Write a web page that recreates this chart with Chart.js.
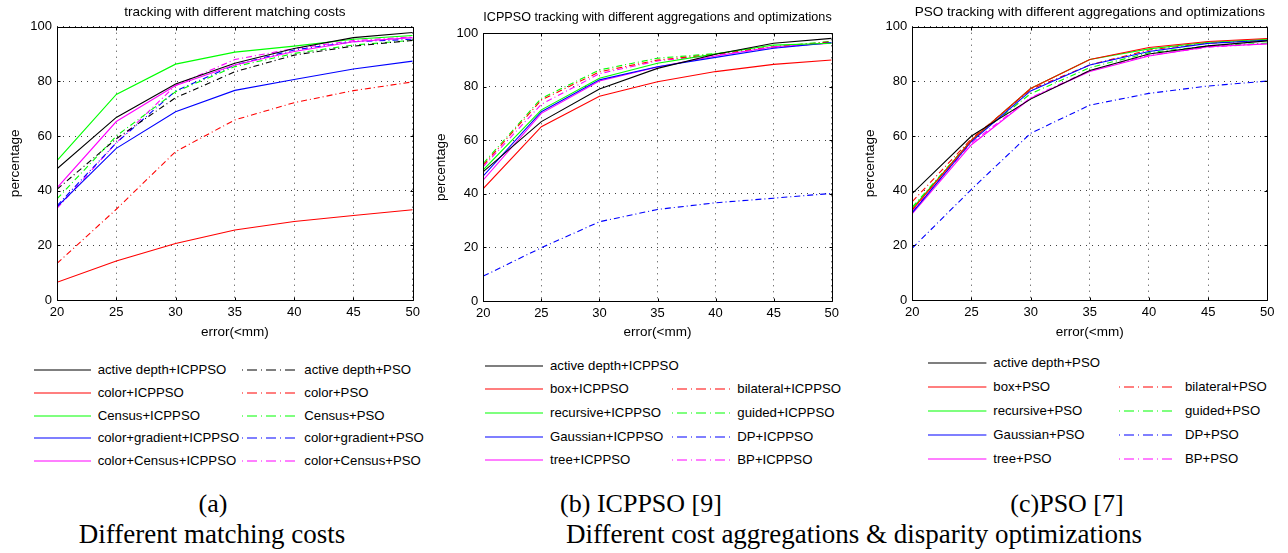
<!DOCTYPE html>
<html>
<head>
<meta charset="utf-8">
<script src="https://cdn.jsdelivr.net/npm/chart.js@4.4.0/dist/chart.umd.min.js"></script>
<style>
body { margin: 0; width: 1288px; height: 553px; background: #fff; position: relative; overflow: hidden; font-family: "Liberation Sans", Arial, sans-serif; }
canvas { position: absolute; top: 0; }
.leg { position: absolute; font-size: 13.2px; line-height: 16px; white-space: nowrap; color: #000; }
.sample { position: absolute; }
.cap { position: absolute; font-family: "Liberation Serif", "Times New Roman", serif; font-size: 26px; line-height: 26px; white-space: nowrap; color: #000; transform: translateX(-50%); }
.cap2 { font-size: 27px; line-height: 27px; }
</style>
</head>
<body>
<canvas id="chartA" width="430" height="345" style="left:0px"></canvas>
<canvas id="chartB" width="430" height="345" style="left:430px"></canvas>
<canvas id="chartC" width="428" height="345" style="left:860px"></canvas>
<div id="legends"></div>

<div class="cap" style="left:213px; top:491px">(a)</div>
<div class="cap" style="left:641px; top:491px">(b) ICPPSO [9]</div>
<div class="cap" style="left:1067px; top:491px">(c)PSO [7]</div>
<div class="cap cap2" style="left:212px; top:520.7px">Different matching costs</div>
<div class="cap cap2" style="left:854px; top:520.7px">Different cost aggregations &amp; disparity optimizations</div>

<script>
// x axis: error threshold (mm)
const errorMm = [20, 25, 30, 35, 40, 45, 50];

// (a) different matching costs
const a_activeDepthICPPSO = [48, 66.8, 79, 86.6, 92, 96, 97.9];
const a_colorICPPSO = [6.5, 14.3, 20.7, 25.6, 28.7, 30.9, 33];
const a_censusICPPSO = [51, 75.2, 86.3, 90.7, 92.9, 95.4, 96.8];
const a_colorGradientICPPSO = [34.1, 55.5, 68.9, 76.7, 80.7, 84.5, 87.4];
const a_colorCensusICPPSO = [41, 65.3, 78.5, 86, 90.9, 94.5, 96];
const a_activeDepthPSO = [40.5, 59, 74, 83.5, 89.6, 92.9, 95];
const a_colorPSO = [13.4, 33.2, 54.3, 65.9, 72.2, 76.6, 79.8];
const a_censusPSO = [37, 60, 76.2, 85.4, 90.2, 93.3, 95];
const a_colorGradientPSO = [34.5, 57.5, 76.5, 86, 91.5, 94.5, 95.4];
const a_colorCensusPSO = [33.5, 57.5, 78.5, 88, 92, 94.9, 96.3];

// (b) ICPPSO with different aggregations / optimizations
const b_activeDepth = [48.3, 67, 79.2, 86.9, 92.2, 96.3, 98.1];
const b_box = [42, 65.1, 76.5, 81.9, 85.7, 88.4, 90];
const b_recursive = [49, 71.4, 83.2, 88.8, 92.3, 95.6, 96.3];
const b_gaussian = [46.7, 70.7, 82.6, 87.5, 91, 94.4, 96.5];
const b_tree = [45.2, 70.1, 82.2, 87.4, 91.5, 95, 96.3];
const b_bilateral = [50.8, 75.1, 85.6, 90, 92.2, 95, 96.8];
const b_guided = [51.4, 75.7, 86.3, 90.7, 92.4, 95, 97];
const b_dp = [9.3, 19.9, 29.6, 34.2, 36.7, 38.4, 40.2];
const b_bp = [50.2, 73.5, 84.9, 89.7, 91.9, 94.6, 96.5];

// (c) PSO with different aggregations / optimizations
const c_activeDepth = [39, 60, 73.5, 84, 90, 93, 94.8];
const c_box = [33, 58.5, 77.4, 88, 92.4, 94.6, 95.7];
const c_recursive = [33.5, 58.5, 77.4, 88, 91.9, 94.3, 95.4];
const c_gaussian = [32, 58, 76.5, 86, 90.9, 93.9, 95.1];
const c_tree = [31.6, 56.8, 73.8, 83.6, 89.3, 92.7, 93.7];
const c_bilateral = [36, 59, 77, 86, 91.5, 94, 95];
const c_guided = [34, 58.5, 75.5, 85, 90.5, 93, 94];
const c_dp = [19, 40.5, 61, 71.3, 75.6, 78.3, 80.1];
const c_bp = [32.5, 57.5, 74, 84, 89.5, 92.5, 93.8];

const dashDot = [6, 3, 1, 3];
const gridColor = 'rgba(0,0,0,0.75)';

Chart.defaults.font.family = '"Liberation Sans", Arial, sans-serif';
Chart.defaults.color = '#000';

const panelA = {
    title: 'tracking with different matching costs',
    series: [
        { label: 'active depth+ICPPSO', values: a_activeDepthICPPSO, color: '#000000' },
        { label: 'color+ICPPSO', values: a_colorICPPSO, color: '#ff0000' },
        { label: 'Census+ICPPSO', values: a_censusICPPSO, color: '#00ff00' },
        { label: 'color+gradient+ICPPSO', values: a_colorGradientICPPSO, color: '#0000ff' },
        { label: 'color+Census+ICPPSO', values: a_colorCensusICPPSO, color: '#ff00ff' },
        { label: 'active depth+PSO', values: a_activeDepthPSO, color: '#000000', dashed: true },
        { label: 'color+PSO', values: a_colorPSO, color: '#ff0000', dashed: true },
        { label: 'Census+PSO', values: a_censusPSO, color: '#00ff00', dashed: true },
        { label: 'color+gradient+PSO', values: a_colorGradientPSO, color: '#0000ff', dashed: true },
        { label: 'color+Census+PSO', values: a_colorCensusPSO, color: '#ff00ff', dashed: true }
    ],
    legendLeft: ['active depth+ICPPSO', 'color+ICPPSO', 'Census+ICPPSO', 'color+gradient+ICPPSO', 'color+Census+ICPPSO'],
    legendRight: ['active depth+PSO', 'color+PSO', 'Census+PSO', 'color+gradient+PSO', 'color+Census+PSO']
};

const panelB = {
    title: 'ICPPSO tracking with different aggregations and optimizations',
    series: [
        { label: 'active depth+ICPPSO', values: b_activeDepth, color: '#000000' },
        { label: 'box+ICPPSO', values: b_box, color: '#ff0000' },
        { label: 'recursive+ICPPSO', values: b_recursive, color: '#00ff00' },
        { label: 'Gaussian+ICPPSO', values: b_gaussian, color: '#0000ff' },
        { label: 'tree+ICPPSO', values: b_tree, color: '#ff00ff' },
        { label: 'bilateral+ICPPSO', values: b_bilateral, color: '#ff0000', dashed: true },
        { label: 'guided+ICPPSO', values: b_guided, color: '#00ff00', dashed: true },
        { label: 'DP+ICPPSO', values: b_dp, color: '#0000ff', dashed: true },
        { label: 'BP+ICPPSO', values: b_bp, color: '#ff00ff', dashed: true }
    ],
    legendLeft: ['active depth+ICPPSO', 'box+ICPPSO', 'recursive+ICPPSO', 'Gaussian+ICPPSO', 'tree+ICPPSO'],
    legendRight: [null, 'bilateral+ICPPSO', 'guided+ICPPSO', 'DP+ICPPSO', 'BP+ICPPSO']
};

const panelC = {
    title: 'PSO tracking with different aggregations and optimizations',
    series: [
        { label: 'active depth+PSO', values: c_activeDepth, color: '#000000' },
        { label: 'box+PSO', values: c_box, color: '#ff0000' },
        { label: 'recursive+PSO', values: c_recursive, color: '#00ff00' },
        { label: 'Gaussian+PSO', values: c_gaussian, color: '#0000ff' },
        { label: 'tree+PSO', values: c_tree, color: '#ff00ff' },
        { label: 'bilateral+PSO', values: c_bilateral, color: '#ff0000', dashed: true },
        { label: 'guided+PSO', values: c_guided, color: '#00ff00', dashed: true },
        { label: 'DP+PSO', values: c_dp, color: '#0000ff', dashed: true },
        { label: 'BP+PSO', values: c_bp, color: '#ff00ff', dashed: true }
    ],
    legendLeft: ['active depth+PSO', 'box+PSO', 'recursive+PSO', 'Gaussian+PSO', 'tree+PSO'],
    legendRight: [null, 'bilateral+PSO', 'guided+PSO', 'DP+PSO', 'BP+PSO']
};

// box around the plot area plus small inward ticks, matlab style
const frame = {
    id: 'frame',
    afterDraw(chart) {
        const { ctx, chartArea: a, scales } = chart;
        const l = Math.round(a.left) + 0.5, r = Math.round(a.right) + 0.5;
        const t = Math.round(a.top) + 0.5, b = Math.round(a.bottom) + 0.5;
        ctx.save();
        ctx.strokeStyle = '#000';
        ctx.lineWidth = 1;
        ctx.beginPath();
        ctx.rect(l, t, r - l, b - t);
        scales.x.ticks.forEach(tk => {
            const px = Math.round(scales.x.getPixelForValue(tk.value)) + 0.5;
            ctx.moveTo(px, b); ctx.lineTo(px, b - 3);
            ctx.moveTo(px, t); ctx.lineTo(px, t + 3);
        });
        scales.y.ticks.forEach(tk => {
            const py = Math.round(scales.y.getPixelForValue(tk.value)) + 0.5;
            ctx.moveTo(l, py); ctx.lineTo(l + 3, py);
            ctx.moveTo(r, py); ctx.lineTo(r - 3, py);
        });
        ctx.stroke();
        ctx.restore();
    }
};

function drawPanel(id, panel, box) {
    const ctx = document.getElementById(id).getContext('2d');
    return new Chart(ctx, {
        type: 'line',
        data: {
            datasets: panel.series.map(s => ({
                label: s.label,
                data: errorMm.map((x, i) => ({ x: x, y: s.values[i] })),
                borderColor: s.color,
                borderWidth: 1.1,
                borderDash: s.dashed ? dashDot : [],
                pointRadius: 0,
                fill: false,
                tension: 0
            }))
        },
        options: {
            responsive: false,
            animation: false,
            layout: { padding: { top: 0, left: 0, bottom: 0, right: box.padRight } },
            plugins: {
                legend: { display: false },
                tooltip: { enabled: false },
                title: {
                    display: true,
                    text: panel.title,
                    fullSize: false,
                    color: '#000',
                    font: { size: 13.5, weight: 'normal' },
                    padding: { top: box.titleTop, bottom: box.titleBottom }
                }
            },
            scales: {
                x: {
                    type: 'linear',
                    min: 20,
                    max: 50,
                    ticks: { stepSize: 5, color: '#000', font: { size: 13 }, padding: 5 },
                    grid: { color: gridColor, drawTicks: false },
                    border: { display: false, dash: [1, 5] },
                    title: { display: true, text: 'error(<mm)', color: '#000', font: { size: 13.5 }, padding: { top: 0, bottom: 4.9 } },
                    afterFit: s => { s.height = box.xHeight; s.paddingLeft = 0; s.paddingRight = 0; }
                },
                y: {
                    min: 0,
                    max: 100,
                    ticks: { stepSize: 20, color: '#000', font: { size: 13 }, padding: 5 },
                    grid: { color: gridColor, drawTicks: false },
                    border: { display: false, dash: [1, 5] },
                    title: { display: true, text: 'percentage', color: '#000', font: { size: 13.5 }, padding: { top: box.yTitlePad, bottom: 0 } },
                    afterFit: s => { s.width = box.yWidth; s.paddingTop = 0; s.paddingBottom = 0; }
                }
            }
        },
        plugins: [frame]
    });
}

function buildLegend(panel, leg) {
    const holder = document.getElementById('legends');
    [panel.legendLeft, panel.legendRight].forEach((col, c) => {
        const pos = leg.cols[c];
        col.forEach((name, r) => {
            if (!name) return;
            const s = panel.series.find(d => d.label === name);
            const cy = leg.top + r * leg.step;
            const w = pos.x2 - pos.x1;
            const dash = s.dashed ? 'stroke-dasharray="10 4 1 4" stroke-dashoffset="14"' : '';
            const svg = document.createElementNS('http://www.w3.org/2000/svg', 'svg');
            svg.setAttribute('class', 'sample');
            svg.setAttribute('width', w);
            svg.setAttribute('height', 4);
            svg.style.left = pos.x1 + 'px';
            svg.style.top = (cy - 2) + 'px';
            svg.innerHTML = '<line x1="0" y1="2" x2="' + w + '" y2="2" stroke="' + s.color + '" stroke-width="1.2" ' + dash + '/>';
            holder.appendChild(svg);
            const label = document.createElement('div');
            label.className = 'leg';
            label.style.left = pos.text + 'px';
            label.style.top = (cy - 8) + 'px';
            label.textContent = name;
            holder.appendChild(label);
        });
    });
}

window.onload = function () {
    drawPanel('chartA', panelA, { padRight: 17.3, titleTop: 3.9, titleBottom: 6.6, xHeight: 45, yWidth: 57, yTitlePad: 6.9 });
    drawPanel('chartB', panelB, { padRight: 28.3, titleTop: 8.9, titleBottom: 8.2, xHeight: 44, yWidth: 53.3, yTitlePad: 3.6 });
    drawPanel('chartC', panelC, { padRight: 20.7, titleTop: 3.9, titleBottom: 6.6, xHeight: 45, yWidth: 52.3, yTitlePad: 1.9 });

    buildLegend(panelA, { top: 370, step: 22.75, cols: [{ x1: 34, x2: 91, text: 97.7 }, { x1: 241.7, x2: 296.7, text: 304.3 }] });
    buildLegend(panelB, { top: 365.7, step: 23.6, cols: [{ x1: 485, x2: 543.3, text: 550 }, { x1: 671.7, x2: 731.7, text: 737.3 }] });
    buildLegend(panelC, { top: 363.3, step: 24, cols: [{ x1: 928.3, x2: 986.7, text: 993.3 }, { x1: 1119.3, x2: 1173.3, text: 1185 }] });
};
</script>
</body>
</html>
